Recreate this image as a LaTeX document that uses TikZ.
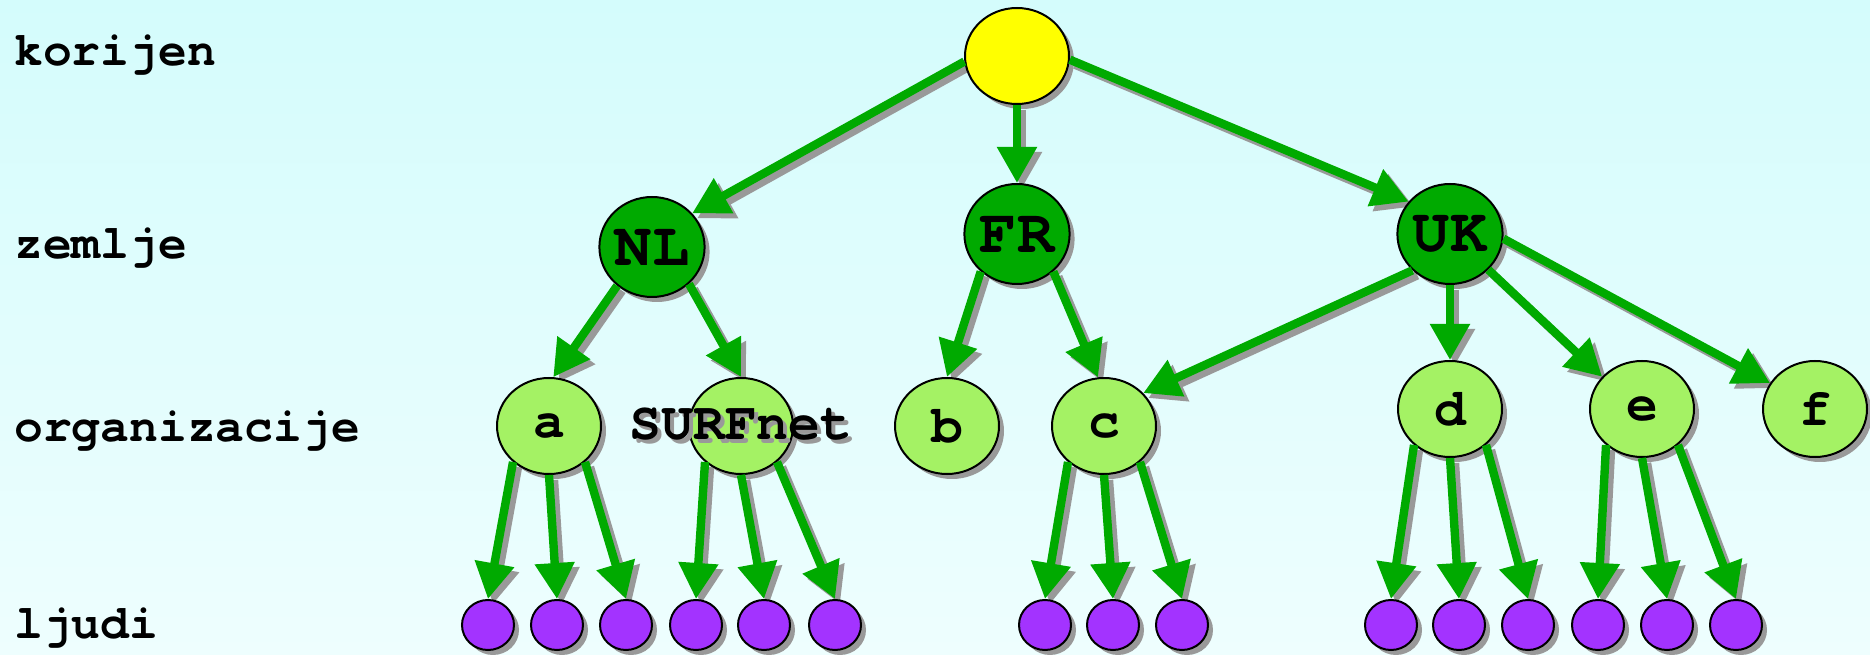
\documentclass[tikz,border=0pt]{standalone}
\usepackage{fontspec}
\setmonofont{TeX Gyre Cursor}
\usetikzlibrary{arrows.meta,shapes.geometric,shadows}

\definecolor{bgtop}{HTML}{D4FCFC}
\definecolor{bgbottom}{HTML}{EEFEFE}
\definecolor{rootyellow}{HTML}{FFFF00}
\definecolor{landgreen}{HTML}{00AA00}
\definecolor{orggreen}{HTML}{A4F264}
\definecolor{personpurple}{HTML}{A333FF}
\definecolor{shadowgray}{HTML}{999999}

\pgfdeclarelayer{bg}
\pgfdeclarelayer{shade}
\pgfsetlayers{bg,shade,main}

% text with a grey copy behind it, centred on a zero-width box
\newcommand{\txtshadow}[1]{\makebox[0pt]{\rlap{\kern2pt\raisebox{-2pt}{\textcolor{shadowgray}{#1}}}#1}}

% parent anchor / child anchor
\newcommand{\treelinks}{root.186/nl.40, root.270/fr.90, root.356/uk.142,
    nl.228/a.85, nl.315/surf.90, fr.226/b.90, fr.314/c.97,
    uk.224/c.40, uk.270/d.90, uk.317/e.141, uk.355/f.150,
    a.225/p1.90, a.270/p2.90, a.315/p3.90,
    surf.225/p4.90, surf.270/p5.90, surf.315/p6.90,
    c.225/p7.90, c.270/p8.90, c.315/p9.90,
    d.225/p10.90, d.270/p11.90, d.315/p12.90,
    e.225/p13.90, e.270/p14.90, e.315/p15.90}

\begin{document}
\begin{tikzpicture}[
    x=0.5pt, y=0.5pt,
    level/.style={anchor=base west, inner sep=0pt,
                  font=\fontsize{24}{28}\selectfont\ttfamily\bfseries},
    blob/.style={ellipse, draw=black, line width=1pt, inner sep=0pt,
                 drop shadow={shadow xshift=2.5pt, shadow yshift=-2.5pt,
                              fill=shadowgray, opacity=1}},
    rootnode/.style={blob, fill=rootyellow, minimum width=52pt, minimum height=48pt},
    land/.style={blob, fill=landgreen, minimum width=52pt, minimum height=50pt,
                 font=\fontsize{31}{34}\selectfont\ttfamily\bfseries},
    org/.style={blob, fill=orggreen, minimum width=52pt, minimum height=48pt,
                font=\fontsize{26.5}{30}\selectfont\ttfamily\bfseries},
    person/.style={blob, fill=personpurple, minimum width=26pt, minimum height=25pt},
    arr/.style={draw=landgreen, line width=4.2pt,
                -{Triangle[length=18pt, width=19pt]}},
    arrshade/.style={arr, draw=shadowgray,
                     transform canvas={shift={(2.5pt,-2.5pt)}}}
]
    % background
    \begin{pgfonlayer}{bg}
        \fill[top color=bgtop, bottom color=bgbottom] (0,0) rectangle (1870,654);
    \end{pgfonlayer}
    \useasboundingbox (0,0) rectangle (1870,654);

    % level names
    \node[level] (lroot) at (14,588) {korijen};
    \node[level] (lland) at (14,395) {zemlje};
    \node[level] (lorg)  at (14,212) {organizacije};
    \node[level] (lppl)  at (14,16)  {ljudi};

    % tree
    \node[rootnode] (root) at (1017,598) {};

    \node[land] (nl) at (652,407)  {NL};
    \node[land] (fr) at (1017,420) {FR};
    \node[land] (uk) at (1450,420) {UK};

    \node[org] (a)    at (549,228)  {a};
    \node[org] (surf) at (741,228)  {\txtshadow{SURFnet}};
    \node[org] (b)    at (947,228)  {b};
    \node[org] (c)    at (1104,228) {c};
    \node[org] (d)    at (1450,245) {d};
    \node[org] (e)    at (1642,245) {e};
    \node[org] (f)    at (1815,245) {f};

    \foreach \x [count=\i] in {488,557,626,696,764,835,1045,1113,1182,
                               1391,1459,1528,1598,1667,1736}
        \node[person] (p\i) at (\x,29) {};

    % links, shadows under the nodes
    \begin{pgfonlayer}{shade}
        \foreach \s/\t in \treelinks
            \draw[arrshade] (\s) -- (\t);
    \end{pgfonlayer}
    \foreach \s/\t in \treelinks
        \draw[arr] (\s) -- (\t);
\end{tikzpicture}
\end{document}
